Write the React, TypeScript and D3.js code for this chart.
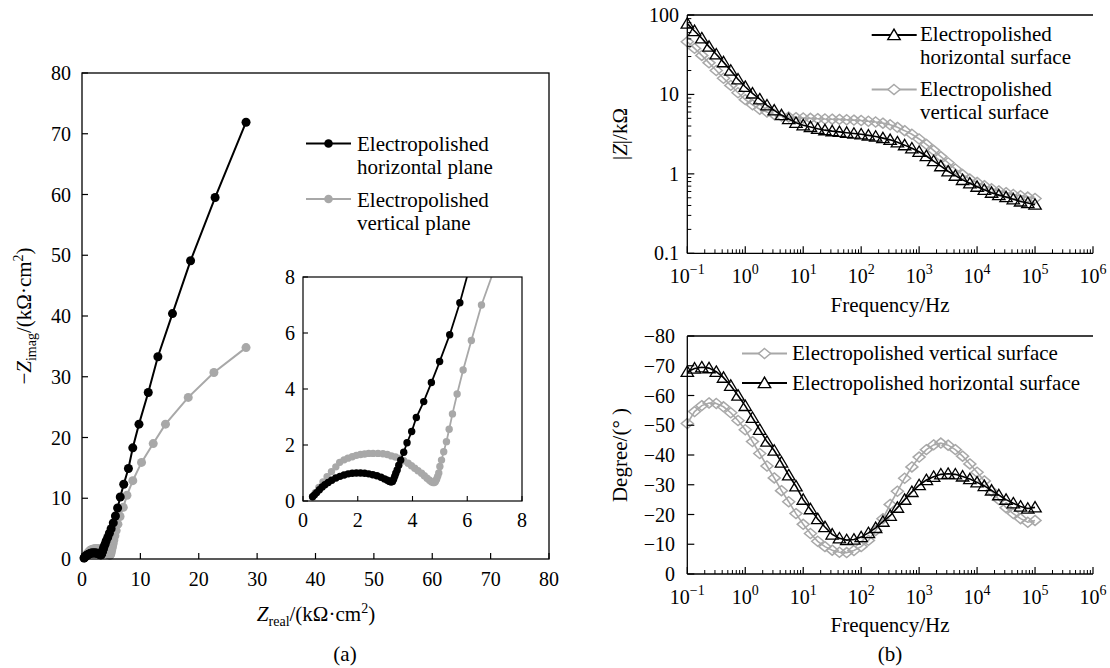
import React from 'react';
import * as d3 from 'd3';

const FONT = "'Liberation Serif', 'DejaVu Serif', 'Times New Roman', Times, serif";
const GRAY = '#a8a8a8';

// ---------- Nyquist data (kΩ·cm²) ----------
const NYQ_H_RE = [0.35,0.42,0.5,0.6,0.7,0.8,0.92,1.05,1.2,1.35,1.5,1.65,1.8,1.95,2.1,2.25,2.4,2.55,2.7,2.85,2.98,3.08,3.16,3.22,3.27,3.31,3.35,3.39,3.44,3.5,3.57,3.68,3.8,3.97,4.14,4.41,4.69,4.99,5.36,5.73,6.1,6.55,7.15,7.95,8.7,9.76,11.35,13.0,15.5,18.6,22.8,28.1];
const NYQ_H_IM = [0.15,0.22,0.3,0.4,0.5,0.58,0.66,0.74,0.82,0.88,0.93,0.97,0.99,1.0,1.0,0.99,0.97,0.94,0.9,0.85,0.79,0.74,0.7,0.68,0.7,0.78,0.88,0.99,1.11,1.28,1.46,1.74,2.08,2.48,2.98,3.55,4.23,4.98,5.94,7.08,8.4,10.2,12.3,14.9,18.3,22.2,27.4,33.3,40.4,49.1,59.5,71.9];
const NYQ_V_RE = [0.35,0.45,0.58,0.73,0.88,1.04,1.2,1.34,1.5,1.64,1.8,1.95,2.1,2.25,2.4,2.56,2.74,2.92,3.08,3.23,3.38,3.53,3.68,3.84,3.96,4.08,4.2,4.33,4.43,4.53,4.62,4.69,4.75,4.8,4.84,4.88,4.92,4.96,5.0,5.06,5.14,5.24,5.34,5.46,5.63,5.85,6.15,6.52,7.07,7.7,8.7,10.2,12.2,14.3,18.2,22.6,28.1];
const NYQ_V_IM = [0.15,0.3,0.48,0.68,0.87,1.05,1.22,1.38,1.47,1.53,1.58,1.63,1.66,1.68,1.7,1.7,1.7,1.69,1.66,1.61,1.57,1.52,1.44,1.35,1.26,1.17,1.08,0.99,0.9,0.81,0.74,0.69,0.66,0.66,0.7,0.78,0.88,1.0,1.23,1.46,1.76,2.12,2.56,3.11,3.82,4.68,5.73,7.0,8.5,10.5,12.9,15.9,19.0,22.2,26.6,30.7,34.8];

const NYQ_TICKS = [0, 10, 20, 30, 40, 50, 60, 70, 80];
const INSET_TICKS = [0, 2, 4, 6, 8];

// ---------- Bode data ----------
const LOG_FREQ = [-1,-0.875,-0.75,-0.625,-0.5,-0.375,-0.25,-0.125,0,0.125,0.25,0.375,0.5,0.625,0.75,0.875,1,1.125,1.25,1.375,1.5,1.625,1.75,1.875,2,2.125,2.25,2.375,2.5,2.625,2.75,2.875,3,3.125,3.25,3.375,3.5,3.625,3.75,3.875,4,4.125,4.25,4.375,4.5,4.625,4.75,4.875,5];
const ZMOD_H = [78,63,51,40,32,25.5,20,15.5,12.5,10.3,8.7,7.3,6.3,5.5,4.9,4.4,4.1,3.9,3.7,3.55,3.45,3.38,3.3,3.22,3.15,3.05,2.95,2.82,2.68,2.5,2.3,2.1,1.9,1.68,1.45,1.25,1.08,0.95,0.84,0.76,0.69,0.63,0.58,0.54,0.51,0.48,0.45,0.43,0.41];
const ZMOD_V = [46,38,31,25,20,16,13,10.5,8.6,7.4,6.5,6.0,5.6,5.35,5.2,5.1,5.05,5.0,4.95,4.9,4.88,4.85,4.8,4.75,4.7,4.6,4.5,4.35,4.15,3.85,3.5,3.15,2.75,2.35,1.98,1.65,1.38,1.15,0.98,0.86,0.78,0.71,0.65,0.61,0.58,0.55,0.53,0.51,0.49];
const PHASE_H = [-68,-69.1,-69.5,-69.2,-68,-66,-63.3,-60,-56.5,-52.5,-48.5,-44.5,-41.5,-37.5,-33.2,-29.5,-25,-21.8,-18.5,-15.8,-13.3,-12,-11.4,-11.6,-12.4,-13.8,-15.5,-17.6,-19.6,-22.3,-25,-27.6,-29.9,-31.6,-32.7,-33.5,-33.7,-33.5,-32.8,-31.9,-30.8,-29.6,-28.1,-26.5,-25,-23.8,-22.7,-22,-22.4];
const PHASE_V = [-50.6,-54.6,-56.6,-57.5,-57.3,-56.2,-54.2,-51.6,-48.5,-44.5,-40.5,-36.3,-32.3,-28,-24.3,-20.3,-16.7,-13.6,-11,-9.2,-8,-7.3,-7.2,-7.9,-9.2,-11.3,-14.6,-18.6,-23.4,-27.8,-32.2,-36,-39.3,-41.8,-43.4,-44,-43.3,-41.8,-39.6,-37,-34.2,-31.3,-27.9,-25,-22.3,-20.3,-18.6,-17.4,-18];

const FREQ_EXPS = [-1, 0, 1, 2, 3, 4, 5, 6];
const ZMOD_TICKS = [0.1, 1, 10, 100];
const ZMOD_TICK_LABELS = ['0.1', '1', '10', '100'];
const PHASE_TICKS = [0, -10, -20, -30, -40, -50, -60, -70, -80];

const sup = (n: number) => (n < 0 ? '\u2212' + Math.abs(n) : String(n));
const minus = (n: number) => (n < 0 ? '\u2212' + Math.abs(n) : String(n));

const TRI = 'M0,-5.8L6.2,4.6L-6.2,4.6Z';
const DIA = 'M0,-5L6,0L0,5L-6,0Z';

function Nyquist() {
  const x = d3.scaleLinear().domain([0, 80]).range([82, 549]);
  const y = d3.scaleLinear().domain([0, 80]).range([559, 73]);
  const ix = d3.scaleLinear().domain([0, 8]).range([303, 522]);
  const iy = d3.scaleLinear().domain([0, 8]).range([501, 277]);
  const H = NYQ_H_RE.map((r, i) => [r, NYQ_H_IM[i]] as [number, number]);
  const V = NYQ_V_RE.map((r, i) => [r, NYQ_V_IM[i]] as [number, number]);
  const line = d3.line<[number, number]>().x((d) => x(d[0])).y((d) => y(d[1]));
  const iline = d3.line<[number, number]>().x((d) => ix(d[0])).y((d) => iy(d[1]));
  return (
    <g>
      <path d={line(V) || ''} fill="none" stroke={GRAY} strokeWidth={2} />
      {V.map((d, i) => <circle key={'v' + i} cx={x(d[0])} cy={y(d[1])} r={4.5} fill={GRAY} />)}
      <path d={line(H) || ''} fill="none" stroke="#000" strokeWidth={2} />
      {H.map((d, i) => <circle key={'h' + i} cx={x(d[0])} cy={y(d[1])} r={4.5} fill="#000" />)}
      <rect x={82} y={73} width={467} height={486} fill="none" stroke="#000" strokeWidth={1.3} />
      {NYQ_TICKS.map((t) => (
        <g key={'xt' + t}>
          <line x1={x(t)} x2={x(t)} y1={559} y2={553} stroke="#000" strokeWidth={1.2} />
          <text x={x(t)} y={586} textAnchor="middle" fontSize={20}>{t}</text>
          <line x1={82} x2={88} y1={y(t)} y2={y(t)} stroke="#000" strokeWidth={1.2} />
          <text x={71} y={y(t) + 7} textAnchor="end" fontSize={20}>{t}</text>
        </g>
      ))}
      <text x={316} y={621} textAnchor="middle" fontSize={21}>
        <tspan fontStyle="italic">Z</tspan>
        <tspan fontSize={14} dy={5}>real</tspan>
        <tspan dy={-5}>/(kΩ·cm</tspan>
        <tspan fontSize={14} dy={-8}>2</tspan>
        <tspan dy={8}>)</tspan>
      </text>
      <text x={345} y={661} textAnchor="middle" fontSize={21}>(a)</text>
      <text transform="translate(31,316) rotate(-90)" textAnchor="middle" fontSize={21}>
        <tspan>−</tspan>
        <tspan fontStyle="italic">Z</tspan>
        <tspan fontSize={14} dy={5}>imag</tspan>
        <tspan dy={-5}>/(kΩ·cm</tspan>
        <tspan fontSize={14} dy={-8}>2</tspan>
        <tspan dy={8}>)</tspan>
      </text>
      <line x1={306} x2={351} y1={143.5} y2={143.5} stroke="#000" strokeWidth={2} />
      <circle cx={328.5} cy={143.5} r={4.3} fill="#000" />
      <text x={357} y={151} fontSize={21}>Electropolished</text>
      <text x={357} y={174} fontSize={21}>horizontal plane</text>
      <line x1={306} x2={351} y1={199} y2={199} stroke={GRAY} strokeWidth={2} />
      <circle cx={328.5} cy={199} r={4.3} fill={GRAY} />
      <text x={357} y={207} fontSize={21}>Electropolished</text>
      <text x={357} y={230} fontSize={21}>vertical plane</text>
      <defs>
        <clipPath id="insetClip"><rect x={303} y={277} width={219} height={224} /></clipPath>
      </defs>
      <rect x={303} y={277} width={219} height={224} fill="#fff" />
      <g clipPath="url(#insetClip)">
        <path d={iline(V) || ''} fill="none" stroke={GRAY} strokeWidth={1.8} />
        {V.map((d, i) => <circle key={'iv' + i} cx={ix(d[0])} cy={iy(d[1])} r={3.7} fill={GRAY} />)}
        <path d={iline(H) || ''} fill="none" stroke="#000" strokeWidth={1.8} />
        {H.map((d, i) => <circle key={'ih' + i} cx={ix(d[0])} cy={iy(d[1])} r={3.7} fill="#000" />)}
      </g>
      <rect x={303} y={277} width={219} height={224} fill="none" stroke="#000" strokeWidth={1.2} />
      {INSET_TICKS.map((t) => (
        <g key={'it' + t}>
          <line x1={ix(t)} x2={ix(t)} y1={501} y2={496} stroke="#000" strokeWidth={1.1} />
          <text x={ix(t)} y={527} textAnchor="middle" fontSize={20}>{t}</text>
          <line x1={303} x2={308} y1={iy(t)} y2={iy(t)} stroke="#000" strokeWidth={1.1} />
          <text x={295} y={iy(t) + 7} textAnchor="end" fontSize={20}>{t}</text>
        </g>
      ))}
    </g>
  );
}

function FreqAxis({ x, y0 }: { x: d3.ScaleLogarithmic<number, number>; y0: number }) {
  const minors: number[] = [];
  FREQ_EXPS.slice(0, -1).forEach((e) => {
    [2, 3, 4, 5, 6, 7, 8, 9].forEach((m) => minors.push(m * Math.pow(10, e)));
  });
  return (
    <g>
      {minors.map((f, i) => (
        <line key={'m' + i} x1={x(f)} x2={x(f)} y1={y0} y2={y0 - 4} stroke="#000" strokeWidth={1} />
      ))}
      {FREQ_EXPS.map((e) => (
        <g key={'M' + e}>
          <line x1={x(Math.pow(10, e))} x2={x(Math.pow(10, e))} y1={y0} y2={y0 - 7} stroke="#000" strokeWidth={1.2} />
          <text x={x(Math.pow(10, e))} y={y0 + 30} textAnchor="middle" fontSize={20}>
            10<tspan fontSize={14} dy={-9}>{sup(e)}</tspan>
          </text>
        </g>
      ))}
    </g>
  );
}

function Bode() {
  const L = 687.3, R = 1093;
  const x = d3.scaleLog().domain([0.1, 1e6]).range([L, R]);
  const yz = d3.scaleLog().domain([0.1, 100]).range([253.3, 15]);
  const yp = d3.scaleLinear().domain([0, -80]).range([574, 336]);
  const F = LOG_FREQ.map((e) => Math.pow(10, e));
  const zH = d3.line<number>().x((_, i) => x(F[i])).y((d) => yz(d));
  const pH = d3.line<number>().x((_, i) => x(F[i])).y((d) => yp(d));
  const zMinors: number[] = [];
  [-1, 0, 1].forEach((e) => [2, 3, 4, 5, 6, 7, 8, 9].forEach((m) => zMinors.push(m * Math.pow(10, e))));
  return (
    <g>
      <path d={zH(ZMOD_V) || ''} fill="none" stroke={GRAY} strokeWidth={1.6} />
      {ZMOD_V.map((d, i) => <path key={'zv' + i} d={DIA} transform={`translate(${x(F[i])},${yz(d)})`} fill="none" stroke={GRAY} strokeWidth={1.5} />)}
      <path d={zH(ZMOD_H) || ''} fill="none" stroke="#000" strokeWidth={1.6} />
      {ZMOD_H.map((d, i) => <path key={'zh' + i} d={TRI} transform={`translate(${x(F[i])},${yz(d)})`} fill="none" stroke="#000" strokeWidth={1.3} />)}
      <line x1={L} x2={R} y1={15} y2={15} stroke="#000" strokeWidth={1.3} />
      <line x1={L} x2={L} y1={15} y2={253.3} stroke="#000" strokeWidth={1.3} />
      <line x1={L} x2={R} y1={253.3} y2={253.3} stroke="#000" strokeWidth={1.3} />
      <FreqAxis x={x} y0={253.3} />
      {zMinors.map((v, i) => (
        <line key={'zm' + i} x1={L} x2={L + 4} y1={yz(v)} y2={yz(v)} stroke="#000" strokeWidth={1} />
      ))}
      {ZMOD_TICKS.map((v, i) => (
        <g key={'zt' + i}>
          <line x1={L} x2={L + 7} y1={yz(v)} y2={yz(v)} stroke="#000" strokeWidth={1.2} />
          <text x={679} y={yz(v) + 7} textAnchor="end" fontSize={20}>{ZMOD_TICK_LABELS[i]}</text>
        </g>
      ))}
      <text x={890} y={312} textAnchor="middle" fontSize={21}>Frequency/Hz</text>
      <text transform="translate(627,134) rotate(-90)" textAnchor="middle" fontSize={21}>
        |<tspan fontStyle="italic">Z</tspan>|/kΩ
      </text>
      <line x1={871.7} x2={916.7} y1={35} y2={35} stroke="#000" strokeWidth={1.8} />
      <path d={TRI} transform="translate(894,35)" fill="#fff" stroke="#000" strokeWidth={1.4} />
      <text x={920} y={41} fontSize={21}>Electropolished</text>
      <text x={920} y={64} fontSize={21}>horizontal surface</text>
      <line x1={871.7} x2={916.7} y1={89.5} y2={89.5} stroke={GRAY} strokeWidth={1.8} />
      <path d={DIA} transform="translate(894,89.5)" fill="#fff" stroke={GRAY} strokeWidth={1.5} />
      <text x={920} y={96} fontSize={21}>Electropolished</text>
      <text x={920} y={119} fontSize={21}>vertical surface</text>

      <path d={pH(PHASE_V) || ''} fill="none" stroke={GRAY} strokeWidth={1.6} />
      {PHASE_V.map((d, i) => <path key={'pv' + i} d={DIA} transform={`translate(${x(F[i])},${yp(d)})`} fill="none" stroke={GRAY} strokeWidth={1.5} />)}
      <path d={pH(PHASE_H) || ''} fill="none" stroke="#000" strokeWidth={1.6} />
      {PHASE_H.map((d, i) => <path key={'ph' + i} d={TRI} transform={`translate(${x(F[i])},${yp(d)})`} fill="none" stroke="#000" strokeWidth={1.3} />)}
      <line x1={L} x2={R} y1={336} y2={336} stroke="#000" strokeWidth={1.3} />
      <line x1={L} x2={L} y1={336} y2={574} stroke="#000" strokeWidth={1.3} />
      <line x1={L} x2={R} y1={574} y2={574} stroke="#000" strokeWidth={1.3} />
      <FreqAxis x={x} y0={574} />
      {PHASE_TICKS.map((v) => (
        <g key={'pt' + v}>
          <line x1={L} x2={L + 7} y1={yp(v)} y2={yp(v)} stroke="#000" strokeWidth={1.2} />
          <text x={675} y={yp(v) + 7} textAnchor="end" fontSize={20}>{minus(v)}</text>
        </g>
      ))}
      <text x={890} y={632} textAnchor="middle" fontSize={21}>Frequency/Hz</text>
      <text x={890} y={661} textAnchor="middle" fontSize={21}>(b)</text>
      <text transform="translate(627,455) rotate(-90)" textAnchor="middle" fontSize={21}>Degree/(° )</text>
      <line x1={742} x2={787} y1={353.5} y2={353.5} stroke={GRAY} strokeWidth={1.8} />
      <path d={DIA} transform="translate(764.5,353.5)" fill="#fff" stroke={GRAY} strokeWidth={1.5} />
      <text x={792} y={360} fontSize={21}>Electropolished vertical surface</text>
      <line x1={742} x2={787} y1={383} y2={383} stroke="#000" strokeWidth={1.8} />
      <path d={TRI} transform="translate(764.5,383)" fill="#fff" stroke="#000" strokeWidth={1.4} />
      <text x={792} y={390} fontSize={21}>Electropolished horizontal surface</text>
    </g>
  );
}

export default function App() {
  return (
    <svg width={1110} height={668} style={{ position: 'absolute', left: 0, top: 0, background: '#fff', fontFamily: FONT }}>
      <rect x={0} y={0} width={1110} height={668} fill="#fff" />
      <Nyquist />
      <Bode />
    </svg>
  );
}
